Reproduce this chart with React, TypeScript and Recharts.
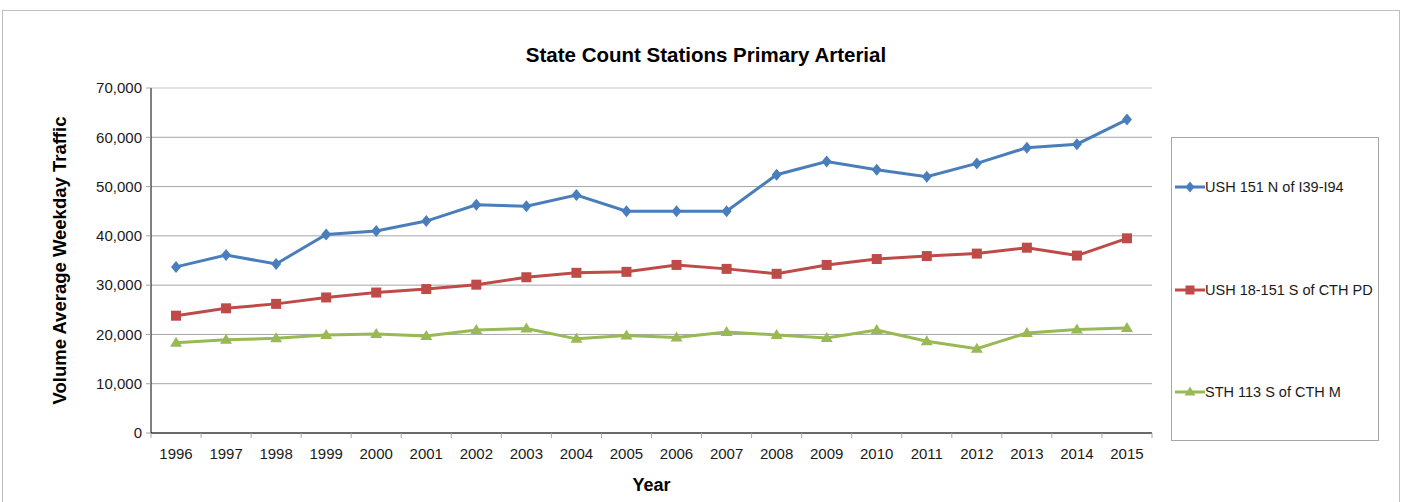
import { LineChart, Line, XAxis, YAxis, CartesianGrid, ReferenceLine } from 'recharts'

const years = ['1996', '1997', '1998', '1999', '2000', '2001', '2002', '2003', '2004', '2005', '2006', '2007', '2008', '2009', '2010', '2011', '2012', '2013', '2014', '2015']
const ush151 = [33700, 36100, 34300, 40300, 41000, 43000, 46300, 46000, 48300, 45000, 45000, 45000, 52400, 55100, 53400, 52000, 54700, 57900, 58600, 63600]
const ush18 = [23800, 25300, 26200, 27500, 28500, 29200, 30100, 31600, 32500, 32700, 34100, 33300, 32300, 34100, 35300, 35900, 36400, 37600, 36000, 39500]
const sth113 = [18300, 18900, 19200, 19900, 20100, 19700, 20900, 21200, 19100, 19800, 19400, 20500, 19900, 19300, 20900, 18600, 17100, 20300, 21000, 21300]
const yTicks = [0, 10000, 20000, 30000, 40000, 50000, 60000, 70000]

const seriesNames = ['USH 151 N of I39-I94', 'USH 18-151 S of CTH PD', 'STH 113 S of CTH M']
const colors = ['#4a7ebb', '#be4b48', '#98b954']
const shapes = ['diamond', 'square', 'triangle']

const data = years.map((year, i) => ({ year, a: ush151[i], b: ush18[i], c: sth113[i] }))

const W = 1406
const H = 502
const margin = { top: 88, right: 254, bottom: 0, left: 0 }
const yAxisW = 151
const xAxisH = 69
const step = (W - margin.left - margin.right - yAxisW) / years.length
const font = 'Liberation Sans, Arial, sans-serif'

function Marker({ shape, cx, cy, color, r = 5 }: any) {
  if (shape === 'diamond') {
    return <path d={`M${cx},${cy - r - 1}L${cx + r},${cy}L${cx},${cy + r + 1}L${cx - r},${cy}Z`} fill={color} />
  }
  if (shape === 'square') {
    return <rect x={cx - r} y={cy - r} width={r * 2} height={r * 2} fill={color} />
  }
  return <path d={`M${cx},${cy - r - 1}L${cx + r + 1},${cy + r - 1}L${cx - r - 1},${cy + r - 1}Z`} fill={color} />
}

function makeDot(shape: string, color: string) {
  return (props: any) => {
    if (props.cx == null || props.cy == null) return <g key={props.index} />
    return <Marker key={props.index} shape={shape} cx={props.cx} cy={props.cy} color={color} />
  }
}

function YearTick({ x, y, payload, index }: any) {
  return (
    <g>
      <line x1={x - step / 2} x2={x - step / 2} y1={y} y2={y + 5} stroke="#a6a6a6" />
      {index === years.length - 1 && <line x1={x + step / 2} x2={x + step / 2} y1={y} y2={y + 5} stroke="#a6a6a6" />}
      <text x={x} y={y + 26} textAnchor="middle" fontSize={15} fill="#1a1a1a" fontFamily={font}>
        {payload.value}
      </text>
    </g>
  )
}

export default function App() {
  return (
    <div style={{ position: 'absolute', left: 0, top: 0, width: W, height: H, background: '#fff', overflow: 'hidden', fontFamily: font }}>
      <div style={{ position: 'absolute', left: 2, top: 10, width: 1398, height: 600, border: '1px solid #bfbfbf', boxSizing: 'border-box' }} />
      <div style={{ position: 'absolute', left: 0, width: 1412, top: 43, textAlign: 'center', fontSize: 20.5, fontWeight: 'bold', color: '#000' }}>
        State Count Stations Primary Arterial
      </div>
      <div style={{ position: 'absolute', left: 0, top: 0 }}>
        <LineChart width={W} height={H} data={data} margin={margin}>
          <CartesianGrid vertical={false} stroke="#a6a6a6" />
          <ReferenceLine y={70000} stroke="#f2f2f2" />
          <XAxis
            dataKey="year"
            height={xAxisH}
            padding={{ left: step / 2, right: step / 2 }}
            axisLine={{ stroke: '#000' }}
            tickLine={false}
            tickSize={0}
            tickMargin={0}
            interval={0}
            tick={<YearTick />}
            label={(p: any) => {
              const vb = p.viewBox
              return (
                <text x={vb.x + vb.width / 2} y={vb.y + 58} textAnchor="middle" fontSize={18} fontWeight="bold" fontFamily={font} fill="#000">
                  Year
                </text>
              )
            }}
          />
          <YAxis
            width={yAxisW}
            domain={[0, 70000]}
            ticks={yTicks}
            interval={0}
            axisLine={{ stroke: '#000' }}
            tickLine={{ stroke: '#a6a6a6' }}
            tickSize={5}
            tickMargin={4}
            tick={{ fontSize: 15, fill: '#1a1a1a', fontFamily: font }}
            tickFormatter={(v: number) => v.toLocaleString('en-US')}
            label={(p: any) => {
              const vb = p.viewBox
              const cx = vb.x + 59
              const cy = vb.y + vb.height / 2
              return (
                <text x={cx} y={cy} transform={`rotate(-90 ${cx} ${cy})`} textAnchor="middle" dominantBaseline="central" fontSize={18.5} fontWeight="bold" fontFamily={font} fill="#000">
                  Volume Average Weekday Traffic
                </text>
              )
            }}
          />
          {['a', 'b', 'c'].map((k, i) => (
            <Line
              key={k}
              dataKey={k}
              name={seriesNames[i]}
              stroke={colors[i]}
              strokeWidth={3}
              dot={makeDot(shapes[i], colors[i])}
              activeDot={false}
              isAnimationActive={false}
            />
          ))}
        </LineChart>
      </div>
      <div style={{ position: 'absolute', left: 1171, top: 137, width: 208, height: 304, border: '1px solid #a6a6a6', boxSizing: 'border-box', background: '#fff' }}>
        {seriesNames.map((name, i) => (
          <div key={name} style={{ position: 'absolute', left: 2, top: 40 + i * 102.5, height: 18, display: 'flex', alignItems: 'center', whiteSpace: 'nowrap' }}>
            <svg width={31} height={18}>
              <line x1={1} x2={31} y1={9} y2={9} stroke={colors[i]} strokeWidth={3} />
              <Marker shape={shapes[i]} cx={16} cy={9} color={colors[i]} r={4.5} />
            </svg>
            <span style={{ fontSize: 14.5, color: '#1a1a1a' }}>{name}</span>
          </div>
        ))}
      </div>
    </div>
  )
}
